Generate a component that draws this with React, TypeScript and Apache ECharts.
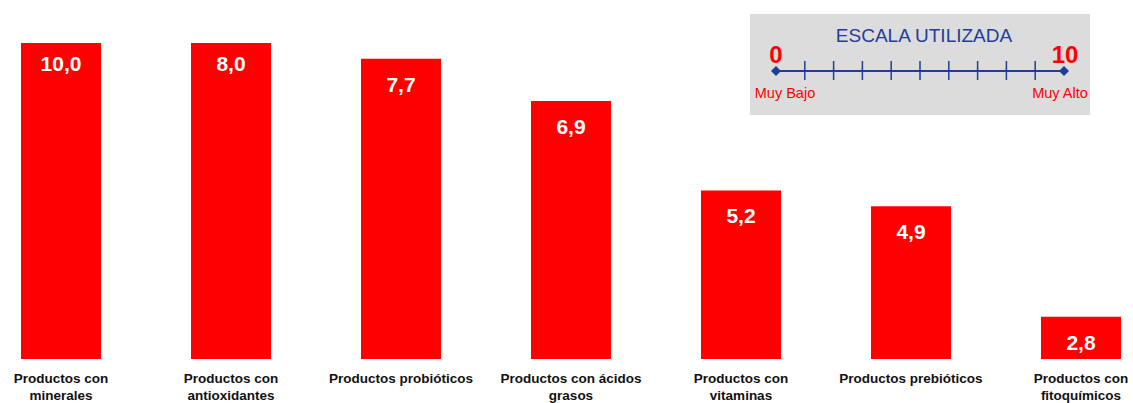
import React, { useEffect, useRef } from "react";
import * as echarts from "echarts";

const categories = [
  "Productos con\nminerales",
  "Productos con\nantioxidantes",
  "Productos probióticos",
  "Productos con ácidos\ngrasos",
  "Productos con\nvitaminas",
  "Productos prebióticos",
  "Productos con\nfitoquímicos",
];
const values = [10.0, 8.0, 7.7, 6.9, 5.2, 4.9, 2.8];
const scaleTicks = [0, 1, 2, 3, 4, 5, 6, 7, 8, 9, 10];
const scaleTitle = "ESCALA UTILIZADA";
const scaleLowLabel = "Muy Bajo";
const scaleHighLabel = "Muy Alto";

const AXIS_MIN = 2;
const AXIS_MAX = 8;

export default function App() {
  const ref = useRef<HTMLDivElement>(null);
  useEffect(() => {
    if (!ref.current) return;
    const chart = echarts.init(ref.current, null, { renderer: "svg" });
    const lineX0 = 776;
    const lineX1 = 1064;
    const lineY = 71;
    const blue = "#1f3d99";
    const step = (lineX1 - lineX0) / (scaleTicks.length - 1);
    const tickEls: any[] = scaleTicks.slice(1, -1).map((t) => ({
      type: "line",
      shape: { x1: lineX0 + t * step, y1: 61, x2: lineX0 + t * step, y2: 80 },
      style: { stroke: blue, lineWidth: 1.5 },
    }));
    const diamond = (cx: number) => ({
      type: "polygon",
      shape: { points: [[cx - 5, lineY], [cx, lineY - 5], [cx + 5, lineY], [cx, lineY + 5]] },
      style: { fill: blue },
    });
    const font = "'Liberation Sans', Arial, sans-serif";
    const barData = values.map((v) => ({
      value: v,
      label: { distance: v >= AXIS_MAX ? 10 : 15 },
    }));
    chart.setOption({
      animation: false,
      grid: { left: -24, right: -33, top: 43, bottom: 44, outerBoundsMode: "none", containLabel: false },
      xAxis: {
        type: "category",
        data: categories,
        axisLine: { show: false },
        axisTick: { show: false },
        axisLabel: {
          interval: 0,
          margin: 11,
          fontFamily: font,
          fontWeight: "bold",
          fontSize: 13.5,
          lineHeight: 17,
          color: "#111",
          verticalAlign: "top",
        },
      },
      yAxis: { type: "value", min: AXIS_MIN, max: AXIS_MAX, show: false, splitLine: { show: false } },
      series: [
        {
          type: "bar",
          data: barData,
          barWidth: 80,
          clip: true,
          itemStyle: { color: "#ff0000" },
          label: {
            show: true,
            position: "insideTop",
            distance: 15,
            color: "#ffffff",
            fontFamily: font,
            fontWeight: "bold",
            fontSize: 21,
            formatter: (p: any) => Number(p.value).toFixed(1).replace(".", ","),
          },
        },
      ],
      graphic: [
        {
          type: "rect",
          shape: { x: 750, y: 14, width: 340, height: 101 },
          style: { fill: "#dcdcdc" },
        },
        {
          type: "text",
          x: 924,
          y: 35,
          style: {
            text: scaleTitle,
            fill: blue,
            font: `19px ${font}`,
            align: "center",
            verticalAlign: "middle",
          },
        },
        {
          type: "line",
          shape: { x1: lineX0, y1: lineY, x2: lineX1, y2: lineY },
          style: { stroke: blue, lineWidth: 2 },
        },
        ...tickEls,
        diamond(lineX0),
        diamond(lineX1),
        {
          type: "text",
          x: lineX0,
          y: 54,
          style: {
            text: String(scaleTicks[0]),
            fill: "#ff0000",
            font: `bold 24px ${font}`,
            align: "center",
            verticalAlign: "middle",
          },
        },
        {
          type: "text",
          x: lineX1 + 1,
          y: 54,
          style: {
            text: String(scaleTicks[scaleTicks.length - 1]),
            fill: "#ff0000",
            font: `bold 24px ${font}`,
            align: "center",
            verticalAlign: "middle",
          },
        },
        {
          type: "text",
          x: 785,
          y: 93,
          style: {
            text: scaleLowLabel,
            fill: "#ff0000",
            font: `14.5px ${font}`,
            align: "center",
            verticalAlign: "middle",
          },
        },
        {
          type: "text",
          x: 1060,
          y: 93,
          style: {
            text: scaleHighLabel,
            fill: "#ff0000",
            font: `14.5px ${font}`,
            align: "center",
            verticalAlign: "middle",
          },
        },
      ],
    });
    return () => chart.dispose();
  }, []);
  return (
    <div
      ref={ref}
      style={{ position: "fixed", left: 0, top: 0, width: 1133, height: 403, background: "#ffffff" }}
    />
  );
}
